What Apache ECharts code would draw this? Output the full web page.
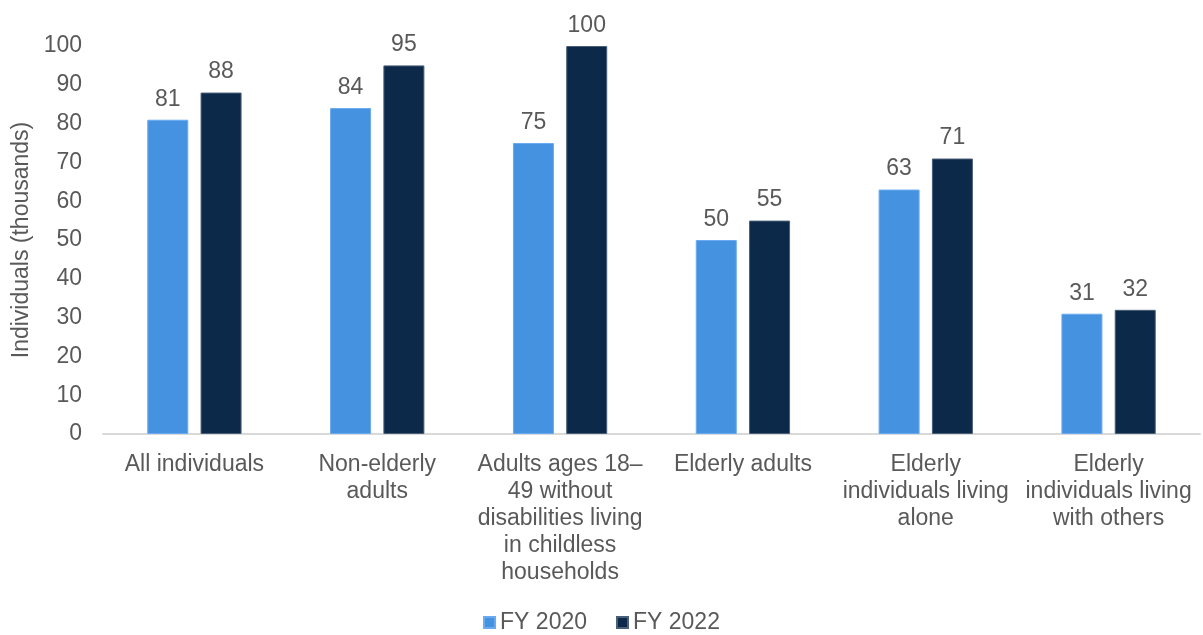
<!DOCTYPE html>
<html>
<head>
<meta charset="utf-8">
<script src="https://cdn.jsdelivr.net/npm/echarts@6/dist/echarts.min.js"></script>
<style>
  html, body { margin: 0; padding: 0; background: #fff; }
  #chart { width: 1203px; height: 635px; }
</style>
</head>
<body>
<div id="chart"></div>
<script>
const categories = [
  'All individuals',
  'Non-elderly\nadults',
  'Adults ages 18–\n49 without\ndisabilities living\nin childless\nhouseholds',
  'Elderly adults',
  'Elderly\nindividuals living\nalone',
  'Elderly\nindividuals living\nwith others'
];
const fy2020 = [81, 84, 75, 50, 63, 31];
const fy2022 = [88, 95, 100, 55, 71, 32];
const seriesNames = ['FY 2020', 'FY 2022'];
const yTicks = { min: 0, max: 100, interval: 10 };

const textColor = '#595959';
const font = '"Liberation Sans", Arial, sans-serif';
const fs = 23;

const chart = echarts.init(document.getElementById('chart'), null, { renderer: 'canvas' });
chart.setOption({
  animation: false,
  textStyle: { fontFamily: font },
  grid: { left: 103, right: 3, top: 46, bottom: 201 },
  legend: {
    data: seriesNames,
    top: 611,
    left: 'center',
    padding: 0,
    itemWidth: 11,
    itemHeight: 11,
    itemGap: 29,
    icon: 'rect',
    textStyle: { fontSize: fs, color: textColor, fontFamily: font }
  },
  xAxis: {
    type: 'category',
    data: categories,
    axisLine: { lineStyle: { color: '#d9d9d9', width: 2 } },
    axisTick: { show: false },
    axisLabel: {
      interval: 0,
      fontSize: fs,
      lineHeight: 27,
      color: textColor,
      margin: 17,
      fontFamily: font
    }
  },
  yAxis: {
    type: 'value',
    min: yTicks.min,
    max: yTicks.max,
    interval: yTicks.interval,
    name: 'Individuals (thousands)',
    nameLocation: 'middle',
    nameGap: 70,
    nameTextStyle: { fontSize: fs, color: textColor, fontFamily: font },
    axisLine: { show: false },
    axisTick: { show: false },
    splitLine: { show: false },
    axisLabel: { fontSize: fs, color: textColor, margin: 21, fontFamily: font }
  },
  series: [
    {
      name: seriesNames[0],
      type: 'bar',
      data: fy2020,
      barWidth: 41,
      barGap: '30%',
      itemStyle: { color: '#4592e0', borderColor: '#6aaaf0', borderWidth: 1 },
      label: { show: true, position: 'top', distance: 9, fontSize: fs, color: textColor, fontFamily: font }
    },
    {
      name: seriesNames[1],
      type: 'bar',
      data: fy2022,
      barWidth: 41,
      itemStyle: { color: '#0d2949', borderColor: '#4a5f78', borderWidth: 1 },
      label: { show: true, position: 'top', distance: 9, fontSize: fs, color: textColor, fontFamily: font }
    }
  ]
});
</script>
</body>
</html>
